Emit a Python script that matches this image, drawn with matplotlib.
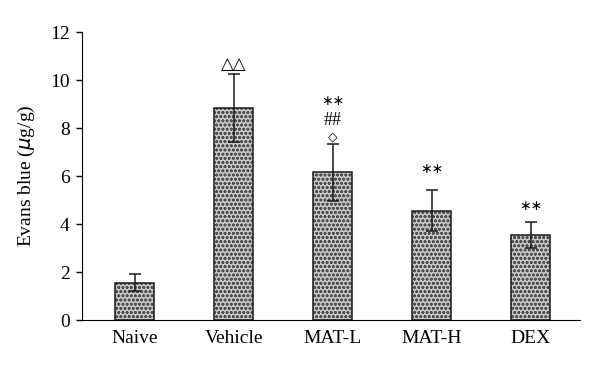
import matplotlib
matplotlib.use("Agg")
import matplotlib.pyplot as plt

categories = ["Naive", "Vehicle", "MAT-L", "MAT-H", "DEX"]
means = [1.55, 8.83, 6.15, 4.55, 3.55]
errors = [0.35, 1.4, 1.2, 0.85, 0.55]

plt.rcParams['font.family'] = ['Liberation Serif', 'DejaVu Serif', 'DejaVu Sans']
plt.rcParams['hatch.linewidth'] = 0.8

fig = plt.figure(figsize=(6, 3.7), dpi=100)
ax = fig.add_axes([0.137, 0.135, 0.83, 0.7785])
x = list(range(len(categories)))
# hatched fill
ax.bar(x, means, width=0.39, color='#c8c8c8', edgecolor='#505050', linewidth=0,
       hatch='oooo', zorder=2)
# outline
ax.bar(x, means, width=0.39, fill=False, edgecolor='#1a1a1a', linewidth=1.1, zorder=2.5)
ax.errorbar(x, means, yerr=errors, fmt='none', ecolor='#1a1a1a', elinewidth=1.1,
            capsize=4.5, capthick=1.1, zorder=3)

ax.text(1, 10.3, "△△", ha='center', va='bottom', fontsize=12, family=['DejaVu Sans'])
ax.text(2, 8.85, "∗∗", ha='center', va='bottom', fontsize=10, family=['DejaVu Sans'])
ax.text(2, 7.95, "##", ha='center', va='bottom', fontsize=13)
ax.text(2, 7.35, "◇", ha='center', va='bottom', fontsize=9, family=['DejaVu Sans'])
ax.text(3, 6.0, "∗∗", ha='center', va='bottom', fontsize=10, family=['DejaVu Sans'])
ax.text(4, 4.45, "∗∗", ha='center', va='bottom', fontsize=10, family=['DejaVu Sans'])

ax.set_xlim(-0.53, 4.5)
ax.set_ylim(0, 12)
ax.set_yticks(range(0, 13, 2))
ax.set_xticks(x)
ax.set_xticklabels(categories, fontsize=14)
ax.tick_params(axis='x', length=0, pad=7)
ax.tick_params(axis='y', length=4, width=1, labelsize=14, direction='out', pad=5)
ax.spines['top'].set_visible(False)
ax.spines['right'].set_visible(False)
ax.set_ylabel("Evans blue ($\\mu$g/g)", fontsize=14, labelpad=9)

fig.savefig("out.png", dpi=100)
